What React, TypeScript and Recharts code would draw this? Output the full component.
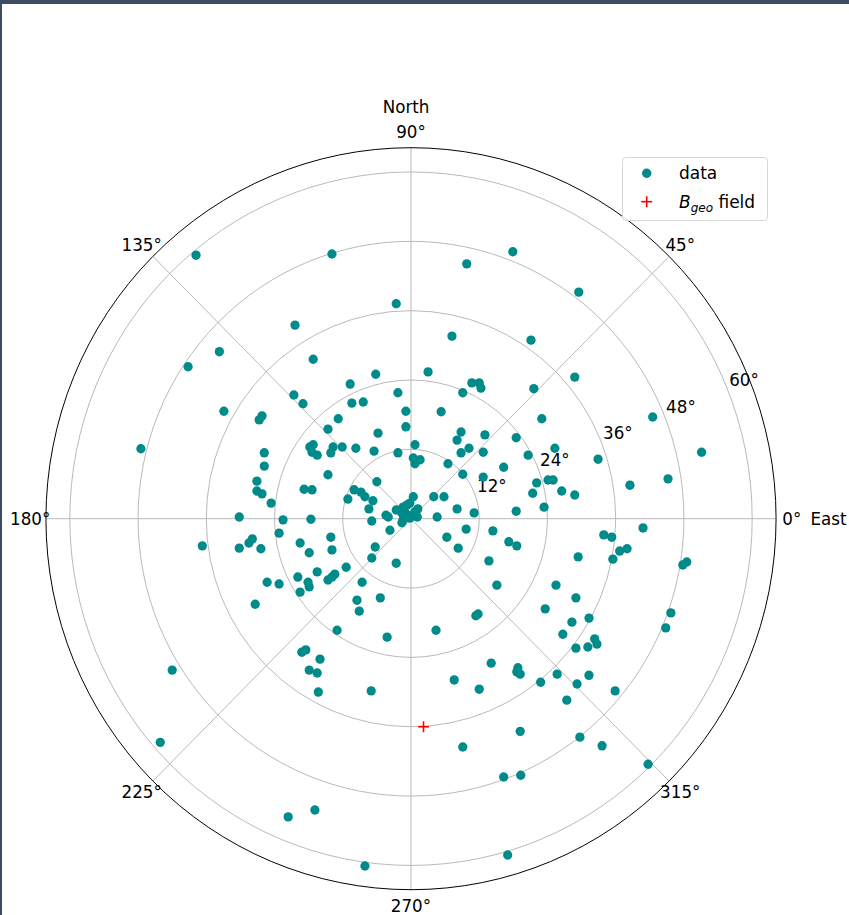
import React from 'react';
import {
  RadarChart, PolarGrid, PolarAngleAxis, PolarRadiusAxis, Radar,
  ScatterChart, Scatter, XAxis, YAxis,
} from 'recharts';

// ---------- data ----------
const RMAX = 64.2;
const angleLabels = ['0°', '45°', '90°', '135°', '180°', '225°', '270°', '315°'];
const radialTicks = [12, 24, 36, 48, 60];

// data points as [r·cosθ, r·sinθ] (degrees, East / North components)
const dataXY: [number, number][] = [
  [-37.8, 45.6], [-13.9, 45.8], [9.8, 44.1], [17.9, 46.2], [29.5, 39.2], [-2.6, 37.2],
  [-20.4, 33.5], [-17.2, 27.6], [7.2, 31.6], [21.1, 30.9], [-33.7, 28.9], [-39.2, 26.3],
  [28.8, 24.5], [-10.7, 23.3], [-6.2, 25.0], [3.0, 25.4], [10.7, 23.5], [12.0, 23.5],
  [12.3, 22.6], [9.1, 21.8], [21.6, 22.5], [-32.9, 18.6], [-47.5, 12.1], [-36.7, -4.7],
  [-42.0, -26.2], [-44.1, -38.7], [-2.3, 21.8], [-20.6, 21.4], [-19.0, 19.9], [-10.4, 20.0],
  [-8.4, 20.2], [-0.9, 18.6], [-26.2, 17.8], [-26.7, 17.1], [-12.8, 17.3], [-0.9, 15.9],
  [-14.6, 15.5], [-5.8, 14.8], [-17.8, 12.4], [-17.2, 12.8], [-17.4, 11.5], [-16.5, 11.0],
  [-14.1, 11.4], [-13.7, 12.4], [-12.1, 12.4], [-9.7, 12.2], [-6.5, 11.7], [-2.3, 11.4],
  [-25.8, 11.4], [-25.8, 9.1], [-14.6, 7.6], [-6.0, 6.4], [-27.1, 6.5], [-27.1, 4.8],
  [-26.2, 4.3], [-18.8, 5.1], [-17.4, 5.0], [-24.6, 2.7], [-11.1, 3.4], [-10.0, 5.0],
  [-8.8, 4.6], [-8.1, 3.8], [-6.7, 3.1], [-7.4, 1.7], [-4.4, 0.6], [-4.0, 0.3],
  [-30.2, 0.3], [-22.5, -0.2], [-17.6, -0.1], [-6.9, -0.4], [-2.6, 1.5], [-1.4, 2.0],
  [-0.7, 2.4], [-0.2, 2.7], [0.4, 3.8], [-1.6, 1.0], [-1.1, 1.2], [-0.5, 0.6],
  [-1.4, -0.2], [-1.6, -0.7], [-0.2, 0.1], [0.7, 1.2], [1.2, 1.7], [1.1, 0.3],
  [-23.2, -2.5], [-27.9, -3.5], [-28.5, -4.2], [-30.2, -5.1], [-26.4, -5.2], [-19.5, -4.2],
  [-17.9, -5.9], [-14.1, -3.2], [-13.9, -5.4], [-3.7, -2.0], [-6.3, -4.9], [-6.9, -6.8],
  [-2.6, -7.7], [-11.4, -8.4], [-16.5, -9.2], [-19.9, -10.1], [-18.1, -11.0], [-17.9, -11.8],
  [-19.5, -12.7], [-14.6, -10.6], [-13.9, -10.1], [-13.4, -9.6], [-25.3, -11.0], [-23.2, -11.3],
  [-27.4, -14.8], [-8.6, -11.0], [-9.5, -14.1], [-9.1, -16.0], [-5.4, -13.7], [-13.0, -19.3],
  [-4.2, -20.5], [-19.2, -23.1], [-18.5, -22.7], [-16.0, -24.3], [-17.9, -26.2], [-16.5, -26.7],
  [-16.3, -30.0], [-7.0, -29.8], [-21.6, -51.6], [-16.9, -50.4], [-8.1, -60.1], [5.3, 18.5],
  [23.0, 17.3], [8.8, 15.0], [8.1, 13.6], [13.0, 14.5], [18.5, 14.0], [10.2, 12.2],
  [8.8, 11.4], [12.7, 11.5], [0.7, 12.8], [25.3, 12.2], [20.6, 11.0], [32.9, 10.3],
  [16.3, 8.9], [6.5, 9.5], [9.1, 7.7], [12.7, 7.2], [0.4, 10.5], [0.7, 9.5],
  [1.6, 10.2], [22.1, 6.2], [21.4, 4.4], [24.1, 6.7], [25.0, 6.7], [26.5, 4.8],
  [28.8, 4.1], [23.4, 2.0], [18.5, 1.3], [4.0, 3.8], [5.8, 3.8], [8.1, 1.7],
  [11.1, 1.0], [4.6, 0.3], [42.5, 17.6], [51.1, 11.5], [45.2, 6.9], [38.5, 5.8],
  [40.8, -1.6], [33.9, -2.8], [35.3, -3.2], [36.7, -5.6], [38.0, -5.2], [35.5, -7.0],
  [47.8, -8.0], [48.5, -7.5], [45.7, -16.3], [44.8, -18.9], [9.7, -1.8], [14.4, -2.1],
  [6.3, -3.2], [8.3, -5.1], [17.2, -4.0], [18.6, -4.7], [13.7, -7.3], [15.1, -11.5],
  [29.4, -6.6], [25.5, -11.5], [29.0, -13.7], [23.6, -15.6], [31.3, -17.2], [28.3, -17.9],
  [26.7, -20.0], [32.3, -20.8], [32.7, -21.7], [31.1, -22.2], [29.0, -22.4], [11.4, -16.8],
  [11.8, -16.5], [4.4, -19.3], [14.1, -25.0], [18.8, -25.8], [19.2, -26.9], [18.6, -26.5],
  [25.7, -26.9], [31.3, -27.1], [22.8, -28.3], [29.2, -28.6], [7.6, -27.9], [12.0, -29.5],
  [35.9, -29.8], [27.4, -31.4], [19.2, -36.8], [9.1, -39.5], [29.7, -37.8], [33.6, -39.3],
  [41.7, -42.5], [16.3, -44.7], [19.3, -44.4], [17.0, -58.2],
];

const bgeoXY: [number, number][] = [[2.2, -36.0]];

// ---------- layout ----------
const W = 849;
const H = 915;
const CX = 411;
const CY = 518.7;
const R = 371;
const SQ = 0.984;
const FONT = "'DejaVu Sans', 'Liberation Sans', sans-serif";
const FS = 17;
const TEAL = '#008b8b';

const angleData = angleLabels.map((label) => ({ label, rim: RMAX }));
const scatterData = dataXY.map(([x, y]) => ({ x, y }));
const bgeoData = bgeoXY.map(([x, y]) => ({ x, y }));

const AngleTick = (props: any) => {
  const { x, y, payload } = props;
  const v = payload.value;
  return (
    <g fontFamily={FONT} fontSize={FS} fill="#000">
      <text x={x} y={y} textAnchor="middle" dominantBaseline="central">{v}</text>
      {v === '0°' && (
        <text x={x + 19} y={y} textAnchor="start" dominantBaseline="central">East</text>
      )}
      {v === '90°' && (
        <text x={x - 5} y={y - 25} textAnchor="middle" dominantBaseline="central">North</text>
      )}
    </g>
  );
};

const RadiusTick = (props: any) => {
  const { x, y, payload } = props;
  return (
    <text x={x + 3} y={y - 6} textAnchor="start" dominantBaseline="central"
      fontFamily={FONT} fontSize={FS} fill="#000">
      {`${payload.value}°`}
    </text>
  );
};

const Rim = (props: any) => {
  const p = props.points && props.points[0];
  if (!p) return null;
  return <circle cx={p.cx} cy={p.cy} r={p.radius} fill="none" stroke="#000" strokeWidth={1} />;
};

const DataDot = (p: any) => <circle cx={p.cx} cy={p.cy} r={4.7} fill={TEAL} />;

const PlusMark = (p: any) => (
  <g stroke="#ff0000" strokeWidth={1.6}>
    <line x1={p.cx - 5.5} x2={p.cx + 5.5} y1={p.cy} y2={p.cy} />
    <line x1={p.cx} x2={p.cx} y1={p.cy - 5.5} y2={p.cy + 5.5} />
  </g>
);

const LegendBox = () => (
  <div style={{
    position: 'absolute', left: 622, top: 157, width: 146, height: 64,
    border: '1px solid #d6d6d6', borderRadius: 4, background: 'rgba(255,255,255,0.85)',
    boxSizing: 'border-box',
  }}>
    <svg width={146} height={64} style={{ position: 'absolute', left: -1, top: -1 }}>
      <circle cx={24.7} cy={16.3} r={4.7} fill={TEAL} />
      <text x={57} y={22} fontFamily={FONT} fontSize={FS} fill="#000">data</text>
      <g stroke="#ff0000" strokeWidth={1.6}>
        <line x1={19.2} x2={30.2} y1={44.7} y2={44.7} />
        <line x1={24.7} x2={24.7} y1={39.2} y2={50.2} />
      </g>
      <text x={57} y={50.7} fontFamily={FONT} fontSize={FS} fill="#000">
        <tspan fontStyle="italic">B</tspan>
        <tspan fontStyle="italic" fontSize={12} dy={4}>geo</tspan>
        <tspan dy={-4}>{' field'}</tspan>
      </text>
    </svg>
  </div>
);

export default function App() {
  return (
    <div style={{ position: 'relative', width: W, height: H, background: '#fff', overflow: 'hidden', fontFamily: FONT }}>
      <style>{'body{margin:0}'}</style>
      <div style={{
        position: 'absolute', left: 0, top: 0, width: W, height: H,
        transform: `scaleX(${SQ})`, transformOrigin: `${CX}px ${CY}px`,
      }}>
        <div style={{ position: 'absolute', left: 0, top: 0 }}>
          <RadarChart width={900} height={H} data={angleData} cx={CX} cy={CY} outerRadius={R}
            startAngle={45} endAngle={405} margin={{ top: 0, right: 0, bottom: 0, left: 0 }}>
            <PolarGrid gridType="circle" stroke="#b0b0b0" strokeWidth={0.9} />
            <PolarAngleAxis dataKey="label" tick={<AngleTick />} tickSize={16} tickLine={false} axisLine={false} />
            <PolarRadiusAxis angle={22.5} domain={[0, RMAX]} ticks={radialTicks} type="number"
              tick={<RadiusTick />} axisLine={false} tickLine={false} allowDataOverflow />
            <Radar dataKey="rim" isAnimationActive={false} fill="none" stroke="none" dot={false} shape={<Rim />} />
          </RadarChart>
        </div>
        <div style={{ position: 'absolute', left: 0, top: 0 }}>
          <ScatterChart width={W} height={H}
            margin={{ top: CY - R, right: W - (CX + R), bottom: H - (CY + R), left: CX - R }}>
            <XAxis type="number" dataKey="x" domain={[-RMAX, RMAX]} hide allowDataOverflow />
            <YAxis type="number" dataKey="y" domain={[-RMAX, RMAX]} hide allowDataOverflow />
            <Scatter name="data" data={scatterData} shape={<DataDot />} isAnimationActive={false} />
            <Scatter name="Bgeo field" data={bgeoData} shape={<PlusMark />} isAnimationActive={false} />
          </ScatterChart>
        </div>
      </div>
      <LegendBox />
      <div style={{ position: 'absolute', left: 0, top: 0, width: W, height: 4, background: '#3d4b63' }} />
      <div style={{ position: 'absolute', left: 0, top: 0, width: 2, height: H, background: '#3d4b63' }} />
    </div>
  );
}
